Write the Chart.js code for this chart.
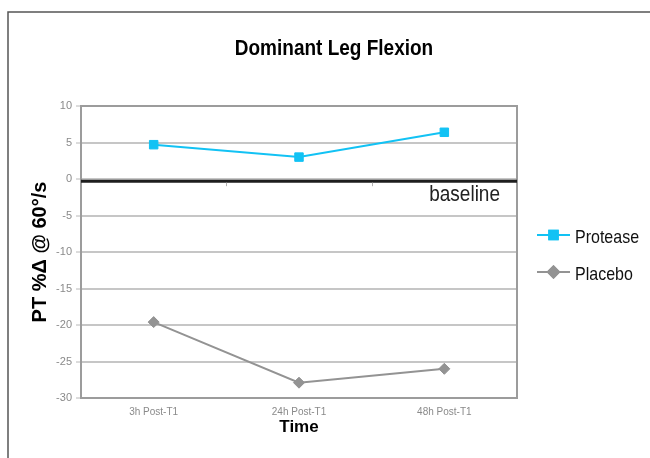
<!DOCTYPE html>
<html>
<head>
<meta charset="utf-8">
<script src="https://cdn.jsdelivr.net/npm/chart.js@4/dist/chart.umd.min.js"></script>
<style>
  html, body { margin: 0; padding: 0; background: #ffffff; }
  canvas { display: block; }
</style>
</head>
<body>
<canvas id="chart" width="650" height="458"></canvas>
<script>
// Peak torque change at 60°/s, dominant leg flexion
const timepoints = ['3h Post-T1', '24h Post-T1', '48h Post-T1'];
const protease = [4.7, 3.0, 6.4];
const placebo = [-19.6, -27.9, -26.0];
const yRange = { min: -30, max: 10, step: 5 };
const baselineValue = -0.3;
const chartTitle = 'Dominant Leg Flexion';
const yTitle = 'PT %\u0394 @ 60\u00b0/s';
const xTitle = 'Time';
const baselineText = 'baseline';

const FONT = '"Liberation Sans", Arial, Helvetica, sans-serif';
const TEXT_STRETCH = 1.12;

// text drawn slightly taller than wide
function tallText(ctx, text, x, y) {
  ctx.save();
  ctx.translate(x, y);
  ctx.scale(1, TEXT_STRETCH);
  ctx.fillText(text, 0, 0);
  ctx.restore();
}

// Page frame, plot frame, baseline rule, title, legend
const decorations = {
  id: 'decorations',
  beforeDraw(chart) {
    const ctx = chart.ctx;
    ctx.save();
    ctx.fillStyle = '#ffffff';
    ctx.fillRect(0, 0, chart.width, chart.height);
    ctx.strokeStyle = '#555555';
    ctx.lineWidth = 1.5;
    ctx.strokeRect(8, 12, 700, 520);
    ctx.restore();
  },
  beforeDatasetsDraw(chart) {
    const ctx = chart.ctx;
    const a = chart.chartArea;
    const y = chart.scales.y;
    const x = chart.scales.x;
    ctx.save();
    // plot frame
    ctx.strokeStyle = '#9c9c9c';
    ctx.lineWidth = 2;
    ctx.strokeRect(a.left, a.top, a.right - a.left, a.bottom - a.top);
    // baseline rule
    const by = y.getPixelForValue(baselineValue);
    ctx.strokeStyle = '#1e1e1e';
    ctx.lineWidth = 3;
    ctx.beginPath();
    ctx.moveTo(a.left, by);
    ctx.lineTo(a.right, by);
    ctx.stroke();
    // category boundary marks on the baseline
    ctx.strokeStyle = '#b0b0b0';
    ctx.lineWidth = 1;
    for (let i = 1; i < timepoints.length; i++) {
      const px = Math.round((x.getPixelForValue(i - 1) + x.getPixelForValue(i)) / 2) + 0.5;
      ctx.beginPath();
      ctx.moveTo(px, by + 1.5);
      ctx.lineTo(px, by + 5);
      ctx.stroke();
    }
    ctx.restore();
  },
  afterDraw(chart) {
    const ctx = chart.ctx;
    const a = chart.chartArea;
    const y = chart.scales.y;
    ctx.save();
    // title
    ctx.fillStyle = '#000000';
    ctx.font = 'bold 19px ' + FONT;
    ctx.textAlign = 'center';
    ctx.textBaseline = 'middle';
    tallText(ctx, chartTitle, 334, 49);
    // baseline label
    ctx.fillStyle = '#222222';
    ctx.font = '19px ' + FONT;
    ctx.textAlign = 'right';
    ctx.textBaseline = 'alphabetic';
    tallText(ctx, baselineText, a.right - 17, y.getPixelForValue(baselineValue) + 20);
    // legend
    const rows = [235, 272];
    chart.data.datasets.forEach((ds, i) => {
      const ly = rows[i];
      ctx.strokeStyle = ds.borderColor;
      ctx.lineWidth = 2;
      ctx.beginPath();
      ctx.moveTo(537, ly);
      ctx.lineTo(570, ly);
      ctx.stroke();
      Chart.helpers.drawPoint(ctx, {
        pointStyle: ds.pointStyle,
        radius: ds.pointRadius,
        borderWidth: 1,
        rotation: 0
      }, 553.5, ly);
      ctx.fillStyle = ds.pointBackgroundColor;
      ctx.strokeStyle = ds.pointBorderColor;
      ctx.fill();
      ctx.stroke();
      ctx.fillStyle = '#111111';
      ctx.font = '16px ' + FONT;
      ctx.textAlign = 'left';
      ctx.textBaseline = 'middle';
      tallText(ctx, ds.label, 575, ly + 3);
    });
    ctx.restore();
  }
};

new Chart(document.getElementById('chart'), {
  type: 'line',
  data: {
    labels: timepoints,
    datasets: [
      {
        label: 'Protease',
        data: protease,
        borderColor: '#12c2f4',
        backgroundColor: '#12c2f4',
        borderWidth: 2,
        pointStyle: 'rect',
        pointRadius: 6,
        pointBackgroundColor: '#12c2f4',
        pointBorderColor: '#12c2f4',
        pointBorderWidth: 1,
        tension: 0
      },
      {
        label: 'Placebo',
        data: placebo,
        borderColor: '#939393',
        backgroundColor: '#939393',
        borderWidth: 2,
        pointStyle: 'rectRot',
        pointRadius: 5.5,
        pointBackgroundColor: '#939393',
        pointBorderColor: '#939393',
        pointBorderWidth: 1,
        tension: 0
      }
    ]
  },
  options: {
    responsive: false,
    animation: false,
    devicePixelRatio: 1,
    layout: { padding: { top: 106, left: 0, right: 133, bottom: 0 } },
    plugins: {
      legend: { display: false },
      title: { display: false },
      tooltip: { enabled: false }
    },
    scales: {
      x: {
        offset: true,
        grid: { display: false, drawTicks: false },
        border: { display: false },
        ticks: {
          color: '#8a8a8a',
          font: { family: FONT, size: 10 },
          padding: 8,
          maxRotation: 0
        },
        title: {
          display: true,
          text: xTitle,
          color: '#000000',
          font: { family: FONT, size: 17, weight: 'bold' },
          padding: { top: 0, bottom: 20 }
        },
        afterFit(scale) { scale.height = 60; }
      },
      y: {
        min: yRange.min,
        max: yRange.max,
        grid: {
          color: '#c6c6c6',
          lineWidth: 2,
          drawTicks: true,
          tickLength: 5,
          tickColor: '#b8b8b8',
          tickWidth: 1
        },
        border: { display: false },
        ticks: {
          stepSize: yRange.step,
          color: '#8a8a8a',
          font: { family: FONT, size: 11 },
          padding: 4
        },
        title: {
          display: true,
          text: yTitle,
          color: '#000000',
          font: { family: FONT, size: 20, weight: 'bold' },
          padding: { top: 28, bottom: 0 }
        },
        afterFit(scale) { scale.width = 81; }
      }
    }
  },
  plugins: [decorations]
});
</script>
</body>
</html>
